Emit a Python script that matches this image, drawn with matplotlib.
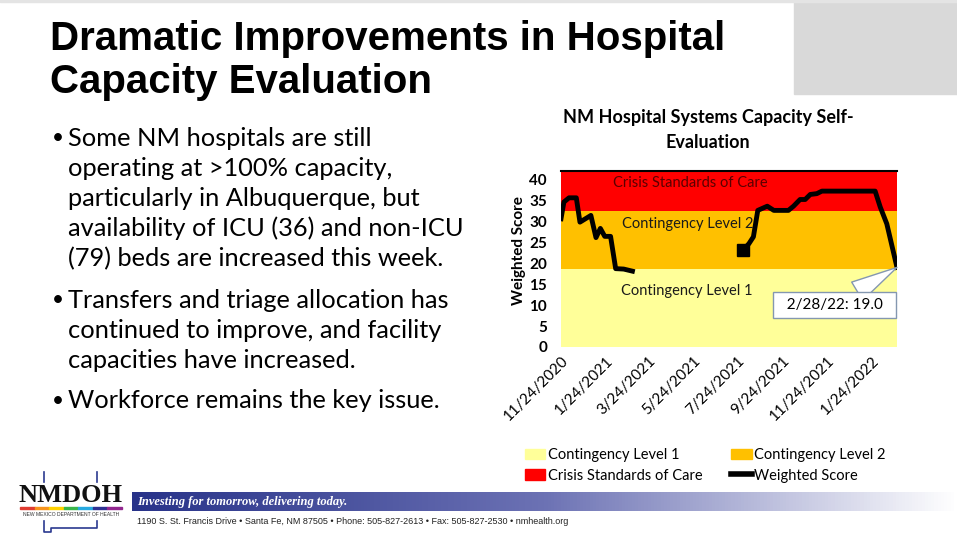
import matplotlib.pyplot as plt
import matplotlib.patches as mpatches
from matplotlib.lines import Line2D
from matplotlib.colors import LinearSegmentedColormap
import numpy as np
import pandas as pd

W, H = 957, 538

# weighted score, winter 2020-21 run
seg1_dates = ['2020-11-24', '2020-11-28', '2020-12-05', '2020-12-15', '2020-12-20',
              '2021-01-04', '2021-01-11', '2021-01-17', '2021-01-23', '2021-01-31',
              '2021-02-07', '2021-02-18', '2021-03-02']
seg1_scores = [30.6, 34.6, 35.6, 35.6, 29.8, 31.4, 26.1, 28.3, 26.4, 26.4, 18.7, 18.6, 18.1]

# weighted score, restarted in summer 2021
seg2_dates = ['2021-08-01', '2021-08-09', '2021-08-15', '2021-08-21', '2021-09-03',
              '2021-09-12', '2021-10-02', '2021-10-09', '2021-10-18', '2021-10-25',
              '2021-11-01', '2021-11-10', '2021-11-17', '2022-01-29', '2022-02-05',
              '2022-02-14', '2022-02-28']
seg2_scores = [23.1, 24.7, 26.3, 32.6, 33.6, 32.6, 32.6, 33.6, 35.2, 35.2,
               36.4, 36.6, 37.2, 37.2, 33.4, 29.4, 19.0]

band_edges = [0, 18.5, 32.5, 42]
band_names = ['Contingency Level 1', 'Contingency Level 2', 'Crisis Standards of Care']
band_colors = ['#FFFF99', '#FFC000', '#FF0000']

tick_dates = ['2020-11-24', '2021-01-24', '2021-03-24', '2021-05-24',
              '2021-07-24', '2021-09-24', '2021-11-24', '2022-01-24']
tick_labels = ['11/24/2020', '1/24/2021', '3/24/2021', '5/24/2021',
               '7/24/2021', '9/24/2021', '11/24/2021', '1/24/2022']
y_ticks = [0, 5, 10, 15, 20, 25, 30, 35, 40]

bullets = [
    ['Some NM hospitals are still', 'operating at >100% capacity,',
     'particularly in Albuquerque, but', 'availability of ICU (36) and non-ICU',
     '(79) beds are increased this week.'],
    ['Transfers and triage allocation has', 'continued to improve, and facility',
     'capacities have increased.'],
    ['Workforce remains the key issue.'],
]

d1 = pd.to_datetime(seg1_dates)
d2 = pd.to_datetime(seg2_dates)
tks = pd.to_datetime(tick_dates)

plt.rcParams['font.family'] = ['Lato', 'DejaVu Sans']


def fx(x):
    return x / W


def fy(y):
    return 1 - y / H


fig = plt.figure(figsize=(W / 100, H / 100), dpi=100)
fig.patch.set_facecolor('white')

# slide decoration
fig.patches.append(mpatches.Rectangle((fx(794), fy(94)), fx(W - 794), 94 / H,
                                      transform=fig.transFigure, color='#D9D9D9', zorder=0))
fig.patches.append(mpatches.Rectangle((0, fy(2)), 1, 2 / H,
                                      transform=fig.transFigure, color='#E4E4E4', zorder=0))

title_font = ['Liberation Sans', 'DejaVu Sans']
fig.text(fx(50), fy(50), 'Dramatic Improvements in Hospital', fontsize=29,
         family=title_font, fontweight='bold', va='baseline', color='black')
fig.text(fx(50), fy(93), 'Capacity Evaluation', fontsize=29,
         family=title_font, fontweight='bold', va='baseline', color='black')

# bullets
line_y = [[138, 168, 198, 228, 259], [300, 330, 360], [401]]
for lines, ys in zip(bullets, line_y):
    fig.text(fx(52), fy(ys[0]), '\u2022', fontsize=15, va='center', ha='left')
    for txt, y in zip(lines, ys):
        fig.text(fx(68), fy(y), txt, fontsize=18.3, va='center', ha='left', color='black')

# chart
ax = fig.add_axes([fx(561), fy(347), 336 / W, 176 / H])
for lo, hi, c in zip(band_edges[:-1], band_edges[1:], band_colors):
    ax.axhspan(lo, hi, color=c, lw=0, zorder=0)
ax.plot(d1, seg1_scores, color='black', lw=3.5, solid_joinstyle='round', zorder=3)
ax.plot(d2, seg2_scores, color='black', lw=3.5, solid_joinstyle='round', zorder=3)
ax.plot(d2[:1], seg2_scores[:1], marker='s', color='black', ms=9, zorder=4)

ax.set_xlim(pd.Timestamp('2020-11-24'), pd.Timestamp('2022-02-28'))
ax.set_ylim(band_edges[0], band_edges[-1])
ax.set_yticks(y_ticks)
ax.set_yticklabels([str(v) for v in y_ticks], fontweight='bold', fontsize=11)
ax.set_xticks(tks)
ax.set_xticklabels(tick_labels, rotation=45, ha='right', rotation_mode='anchor', fontsize=11)
ax.tick_params(axis='y', length=0, pad=10)
ax.tick_params(axis='x', length=0, pad=5)
for s in ['left', 'right', 'bottom']:
    ax.spines[s].set_visible(False)
ax.spines['top'].set_linewidth(1.5)

ax.set_ylabel('Weighted Score', fontsize=11, fontweight='bold')
ax.yaxis.set_label_coords(-(561 - 519) / 336, 0.55)
ax.yaxis.label.set_verticalalignment('center')

ax.text(0.384, 39.1, 'Crisis Standards of Care', transform=ax.get_yaxis_transform(),
        ha='center', va='center', fontsize=10.5, color='#5A0000')
ax.text(0.378, 29.4, 'Contingency Level 2', transform=ax.get_yaxis_transform(),
        ha='center', va='center', fontsize=10.5, color='#1A1A1A')
ax.text(0.375, 13.4, 'Contingency Level 1', transform=ax.get_yaxis_transform(),
        ha='center', va='center', fontsize=10.5, color='#1A1A1A')

ax.annotate('  2/28/22: %.1f  ' % seg2_scores[-1], xy=(d2[-1], seg2_scores[-1]),
            xytext=(-45, -27), textcoords='offset points', ha='center', va='center',
            fontsize=11, annotation_clip=False, zorder=6,
            bbox=dict(boxstyle='square,pad=0.4', fc='white', ec='#8497B0', lw=1),
            arrowprops=dict(arrowstyle='wedge,tail_width=1.4,shrink_factor=0.5',
                            fc='white', ec='#8497B0', lw=1, shrinkA=0, shrinkB=0))

fig.text(fx(708), fy(118), 'NM Hospital Systems Capacity Self-', fontsize=13,
         fontweight='bold', ha='center', va='center')
fig.text(fx(708), fy(142), 'Evaluation', fontsize=13, fontweight='bold',
         ha='center', va='center')

handles = [mpatches.Patch(color=band_colors[0]), mpatches.Patch(color=band_colors[2]),
           mpatches.Patch(color=band_colors[1]), Line2D([], [], color='black', lw=4)]
labels = [band_names[0], band_names[2], band_names[1], 'Weighted Score']
fig.legend(handles, labels, ncol=2, loc='upper left', bbox_to_anchor=(fx(525), fy(448)),
           frameon=False, fontsize=10.5, handlelength=1.4, handletextpad=0.15,
           columnspacing=2.0, labelspacing=0.45, borderpad=0, borderaxespad=0)

# footer
bax = fig.add_axes([fx(132), fy(511), (W - 132) / W, 19 / H])
cmap = LinearSegmentedColormap.from_list('band', ['#283389', '#6C72B4', '#FFFFFF'])
bax.imshow(np.linspace(0, 1, 256).reshape(1, -1), aspect='auto', cmap=cmap,
           extent=[0, 1, 0, 1])
bax.axis('off')
fig.text(fx(137), fy(502), 'Investing for tomorrow, delivering today.', color='white',
         fontsize=9, family=['Liberation Serif', 'DejaVu Serif'], style='italic',
         fontweight='bold', va='center')
fig.text(fx(137), fy(521), '1190 S. St. Francis Drive \u2022 Santa Fe, NM 87505 \u2022 '
         'Phone: 505-827-2613 \u2022 Fax: 505-827-2530 \u2022 nmhealth.org',
         fontsize=6.5, family=title_font, color='#222222', va='center')

fig.text(fx(71), fy(495), 'NMDOH', fontsize=19, family=['Liberation Serif', 'DejaVu Serif'],
         fontweight='bold', ha='center', va='center', color='#111111')
rainbow = ['#E03C31', '#F7941D', '#FFD200', '#39B54A', '#27AAE1', '#2E3192', '#92278F']
for i, c in enumerate(rainbow):
    fig.patches.append(mpatches.Rectangle((fx(20 + i * 102 / 7), fy(509)), 102 / 7 / W, 2 / H,
                                          transform=fig.transFigure, color=c))
fig.text(fx(71), fy(514), 'NEW MEXICO DEPARTMENT OF HEALTH', fontsize=3.6,
         family=title_font, ha='center', va='center', color='#333333')
ox = [44, 44, 51, 51, 97, 97]
oy = [521, 532, 532, 528, 528, 521]
fig.add_artist(Line2D([fx(v) for v in ox], [fy(v) for v in oy], color='#2B3990', lw=1.2,
                      transform=fig.transFigure))
fig.add_artist(Line2D([fx(44), fx(44)], [fy(472), fy(482)], color='#2B3990', lw=1.2,
                      transform=fig.transFigure))
fig.add_artist(Line2D([fx(97), fx(97)], [fy(472), fy(482)], color='#2B3990', lw=1.2,
                      transform=fig.transFigure))

fig.savefig('out.png', dpi=100)
